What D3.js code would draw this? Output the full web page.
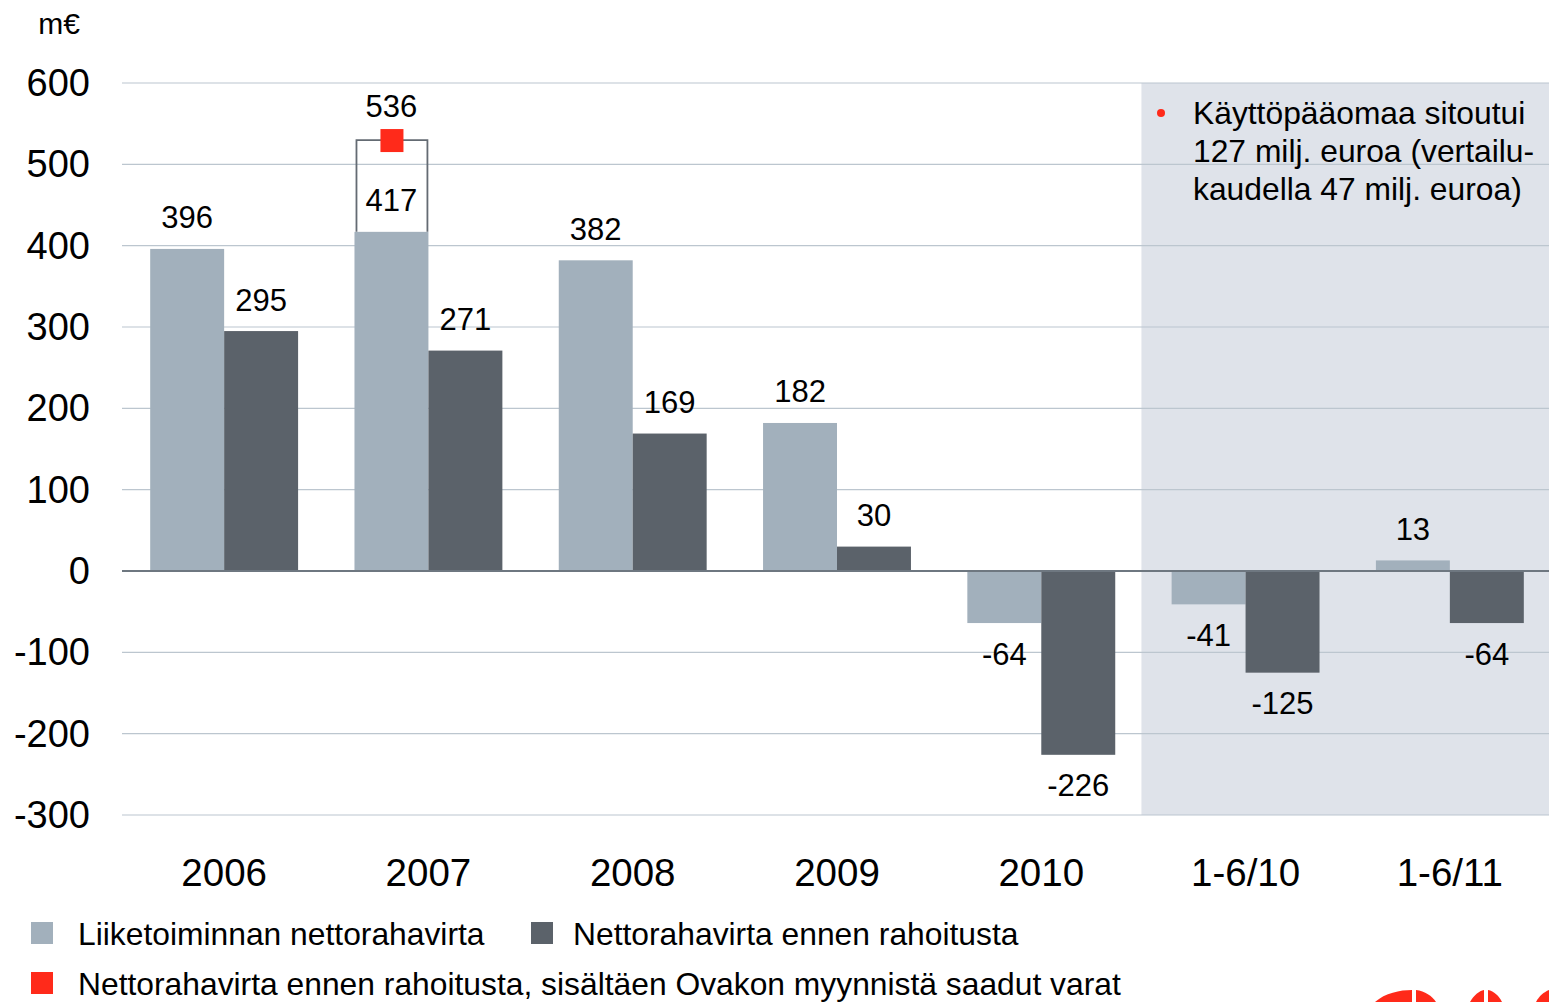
<!DOCTYPE html>
<html>
<head>
<meta charset="utf-8">
<script src="https://cdn.jsdelivr.net/npm/d3@7"></script>
<style>
  body { margin: 0; background: #fff; }
  text { font-family: "Liberation Sans", Arial, sans-serif; fill: #000; }
</style>
</head>
<body>
<svg id="chart" width="1549" height="1002"></svg>
<script>
const categories = ["2006", "2007", "2008", "2009", "2010", "1-6/10", "1-6/11"];
const operating = [396, 417, 382, 182, -64, -41, 13];
const beforeFinancing = [295, 271, 169, 30, -226, -125, -64];
const withOvako = { category: "2007", value: 536 };
const yTicks = [600, 500, 400, 300, 200, 100, 0, -100, -200, -300];
const seriesNames = ["Liiketoiminnan nettorahavirta", "Nettorahavirta ennen rahoitusta"];
const ovakoName = "Nettorahavirta ennen rahoitusta, sisältäen Ovakon myynnistä saadut varat";
const noteLines = ["Käyttöpääomaa sitoutui", "127 milj. euroa (vertailu-", "kaudella 47 milj. euroa)"];

const colors = { light: "#a2b0bc", dark: "#5b626a", red: "#ff2a1a", shade: "#dfe3ea", grid: "#bcc6cf" };

const svg = d3.select("#chart");

const x = d3.scaleBand().domain(categories).range([122, 1552]).paddingInner(0.276).paddingOuter(0.138);
const y = d3.scaleLinear().domain([-300, 600]).range([815, 83]);
const bw = x.bandwidth() / 2;

// shaded half-year area
const shadeX = x("1-6/10") - x.step() * x.paddingInner() / 2 - 2;
svg.append("rect")
  .attr("x", shadeX).attr("y", y(600))
  .attr("width", 1549 - shadeX).attr("height", y(-300) - y(600))
  .attr("fill", colors.shade);

// gridlines
svg.append("g").selectAll("line").data(yTicks.filter(d => d !== 0)).join("line")
  .attr("x1", 122).attr("x2", 1549)
  .attr("y1", d => y(d)).attr("y2", d => y(d))
  .attr("stroke", colors.grid).attr("stroke-width", 1.2);

// y tick labels
svg.append("g").selectAll("text").data(yTicks).join("text")
  .attr("x", 90).attr("y", d => y(d))
  .attr("text-anchor", "end").attr("dominant-baseline", "central")
  .style("font-size", "38px")
  .text(d => d);

svg.append("text").attr("x", 59).attr("y", 23)
  .attr("text-anchor", "middle").attr("dominant-baseline", "central")
  .style("font-size", "30px").text("m€");

// bars
const rows = categories.map((c, i) => ({ c, a: operating[i], b: beforeFinancing[i] }));

const g = svg.append("g");
g.selectAll("rect.a").data(rows).join("rect").attr("class", "a")
  .attr("x", d => x(d.c)).attr("width", bw)
  .attr("y", d => y(Math.max(0, d.a))).attr("height", d => Math.abs(y(d.a) - y(0)))
  .attr("fill", colors.light);
g.selectAll("rect.b").data(rows).join("rect").attr("class", "b")
  .attr("x", d => x(d.c) + bw).attr("width", bw)
  .attr("y", d => y(Math.max(0, d.b))).attr("height", d => Math.abs(y(d.b) - y(0)))
  .attr("fill", colors.dark);

// zero line
svg.append("line").attr("x1", 122).attr("x2", 1549)
  .attr("y1", y(0)).attr("y2", y(0))
  .attr("stroke", "#6e7780").attr("stroke-width", 2);

// Ovako ghost box and marker
const ovX = x(withOvako.category);
const ovBase = operating[categories.indexOf(withOvako.category)];
svg.append("path")
  .attr("d", `M${ovX + 2},${y(ovBase)} V${y(withOvako.value) + 5} H${ovX + bw - 1} V${y(ovBase)}`)
  .attr("fill", "none").attr("stroke", "#646b73").attr("stroke-width", 1.8);
svg.append("rect")
  .attr("x", ovX + bw / 2 - 11).attr("y", y(withOvako.value) - 6)
  .attr("width", 23).attr("height", 23).attr("fill", colors.red);
svg.append("text")
  .attr("x", ovX + bw / 2).attr("y", y(withOvako.value) - 29)
  .attr("text-anchor", "middle").attr("dominant-baseline", "central")
  .style("font-size", "31px").text(withOvako.value);

// value labels
const labelY = v => v >= 0 ? y(v) - 31 : y(v) + 31;
g.selectAll("text.la").data(rows).join("text").attr("class", "la")
  .attr("x", d => x(d.c) + bw / 2).attr("y", d => labelY(d.a))
  .attr("text-anchor", "middle").attr("dominant-baseline", "central")
  .style("font-size", "31px").text(d => d.a);
g.selectAll("text.lb").data(rows).join("text").attr("class", "lb")
  .attr("x", d => x(d.c) + bw * 1.5).attr("y", d => labelY(d.b))
  .attr("text-anchor", "middle").attr("dominant-baseline", "central")
  .style("font-size", "31px").text(d => d.b);

// category labels
svg.append("g").selectAll("text").data(categories).join("text")
  .attr("x", d => x(d) + bw).attr("y", 872)
  .attr("text-anchor", "middle").attr("dominant-baseline", "central")
  .style("font-size", "38.5px").text(d => d);

// note in shaded area
svg.append("circle").attr("cx", 1161).attr("cy", 113).attr("r", 4).attr("fill", colors.red);
svg.append("g").selectAll("text").data(noteLines).join("text")
  .attr("x", 1193).attr("y", (d, i) => 113 + i * 38)
  .attr("dominant-baseline", "central")
  .style("font-size", "31.8px").text(d => d);

// legend
const legend = [
  { name: seriesNames[0], color: colors.light, x: 31, y: 933, gap: 47 },
  { name: seriesNames[1], color: colors.dark, x: 531, y: 933, gap: 42 },
  { name: ovakoName, color: colors.red, x: 31, y: 983, gap: 47 }
];
const lg = svg.append("g").selectAll("g").data(legend).join("g")
  .attr("transform", d => `translate(${d.x},${d.y})`);
lg.append("rect").attr("x", 0).attr("y", -11).attr("width", 22).attr("height", 22)
  .attr("fill", d => d.color);
lg.append("text").attr("x", d => d.gap).attr("y", 1)
  .attr("dominant-baseline", "central")
  .style("font-size", "31.8px").text(d => d.name);

// cropped logo at bottom right
const logo = svg.append("g").attr("fill", colors.red);
logo.append("path").attr("d", "M1375,1002 C1385,993 1400,990 1412,990 L1412,1002 Z");
logo.append("path").attr("d", "M1416,990 C1425,991 1432,996 1436,1002 L1416,1002 Z");
logo.append("path").attr("d", "M1470,1002 C1474,995 1479,991 1484,990 L1484,1002 Z");
logo.append("path").attr("d", "M1488,990 C1494,991 1499,996 1502,1002 L1488,1002 Z");
logo.append("path").attr("d", "M1536,1002 C1539,996 1544,992 1549,990 L1549,1002 Z");
</script>
</body>
</html>
